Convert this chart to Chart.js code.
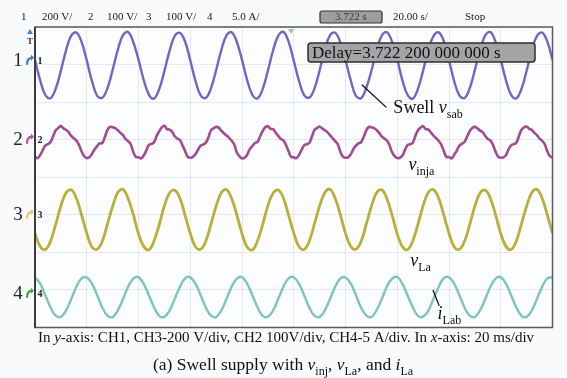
<!DOCTYPE html>
<html>
<head>
<meta charset="utf-8">
<script src="https://cdn.jsdelivr.net/npm/chart.js@4/dist/chart.umd.min.js"></script>
<style>
  html, body { margin: 0; padding: 0; background: #f8fafb; }
  #wrap { position: relative; width: 567px; height: 378px; }
  canvas { display: block; }
</style>
</head>
<body>
<div id="wrap"><canvas id="scope" width="567" height="378"></canvas></div>
<script>
// Sampling steps of the stored records (ms)
const stepCoarseMs = 2;   // CH1, CH3, CH4
const stepFineMs = 1;     // CH2

// CH1: supply line voltage v_sab (V)
const ch1Volts = [
  4,-104,-182,-199,-149,-52,56,134,151,101,
  2,-107,-185,-197,-146,-49,58,137,153,99,
  6,-101,-180,-201,-151,-55,53,132,149,103,
  3,-106,-184,-198,-147,-50,57,135,152,100,
  5,-103,-181,-200,-150,-53,55,133,154,102,
  1,-105,-183,-196,-148,-51,59,136,150,98,
  4,-102,-186,-199,-145,-54,54,134,152,101,
  7,-104,-182,-202,-149,-52,56,131,151,104,
  3,-108,-184,-198,-147,-48,57,135,153,100,
  5,-103,-181,-200,-150,-53,55,133,150,102,
  4
];

// CH2: injected voltage v_inja (V)
const ch2Volts = [
  -46,-49,-41,-28,-15,-12,-6,9,25,31,36,30,26,20,10,4,-2,-14,-31,-44,
  -49,-47,-38,-26,-17,-10,-9,7,26,34,33,31,25,18,12,2,-4,-12,-33,-46,
  -47,-50,-42,-29,-14,-11,-7,10,22,33,37,28,27,21,9,3,-1,-15,-30,-45,
  -48,-46,-39,-27,-16,-13,-8,6,25,30,34,32,24,17,11,5,-3,-13,-34,-44,
  -50,-48,-40,-25,-17,-9,-6,9,23,33,36,29,28,19,10,2,-2,-14,-31,-46,
  -47,-49,-41,-28,-15,-12,-9,8,26,31,35,30,25,20,12,4,-4,-12,-32,-45,
  -48,-47,-39,-26,-16,-10,-7,7,24,34,33,31,26,18,9,3,-2,-15,-33,-44,
  -49,-48,-42,-27,-14,-12,-8,10,25,32,36,28,27,19,11,4,-3,-13,-30,-46,
  -46,-50,-40,-29,-16,-11,-6,8,23,31,34,30,24,20,10,2,-2,-14,-32,-45,
  -48,-47,-41,-26,-15,-12,-8,9,26,33,35,29,26,18,12,3,-3,-12,-31,-44,
  -47
];

// CH3: load voltage v_La (V)
const ch3Volts = [
  -99,-169,-185,-140,-51,47,117,133,88,-1,
  -97,-171,-183,-142,-49,45,119,135,86,1,
  -101,-168,-186,-139,-53,48,116,131,89,-3,
  -98,-170,-184,-141,-50,46,118,134,87,0,
  -100,-172,-187,-138,-52,49,115,132,90,-2,
  -96,-169,-185,-140,-48,47,118,136,88,1,
  -99,-167,-183,-143,-51,44,117,133,86,-1,
  -102,-170,-186,-139,-50,48,119,134,89,-2,
  -98,-171,-184,-141,-53,46,116,132,87,0,
  -100,-168,-185,-140,-49,47,118,135,88,-1,
  -99
];

// CH4: load current i_Lab (A)
const ch4Amps = [
  2.19,1.33,-0.20,-1.82,-2.93,-3.09,-2.23,-0.70,0.92,2.03,
  2.17,1.35,-0.18,-1.84,-2.91,-3.11,-2.21,-0.72,0.94,2.01,
  2.21,1.31,-0.22,-1.80,-2.94,-3.08,-2.25,-0.69,0.90,2.05,
  2.18,1.34,-0.19,-1.83,-2.92,-3.10,-2.22,-0.71,0.93,2.02,
  2.20,1.32,-0.21,-1.81,-2.95,-3.07,-2.24,-0.68,0.91,2.04,
  2.19,1.33,-0.20,-1.82,-2.93,-3.09,-2.23,-0.70,0.92,2.03,
  2.16,1.36,-0.17,-1.85,-2.90,-3.12,-2.20,-0.73,0.95,2.00,
  2.22,1.30,-0.23,-1.79,-2.95,-3.06,-2.26,-0.67,0.89,2.06,
  2.18,1.34,-0.19,-1.83,-2.92,-3.10,-2.22,-0.71,0.93,2.02,
  2.20,1.32,-0.21,-1.81,-2.94,-3.08,-2.24,-0.69,0.91,2.04,
  2.19
];

// Channel settings: units per division and screen offset (divisions)
const channelNames = ['1', '2', '3', '4'];
const perDivision = [200, 100, 200, 5];
const offsetDivs = [3.1, 1.0, -1.0, -3.1];
const traceColors = ['#7366c0', '#a24b92', '#bcae3a', '#7cc6b3'];
const markerColors = ['#3d7fd0', '#b0509a', '#f3c070', '#3fa64a'];

// Header readouts
const headerItems = [
  ['1', 21], ['200 V/', 42], ['2', 88], ['100 V/', 107],
  ['3', 146], ['100 V/', 166], ['4', 207], ['5.0 A/', 232],
  ['20.00 s/', 393], ['Stop', 465]
];
const timeReadout = '3.722 s';
const delayReadout = 'Delay=3.722 200 000 000 s';

function toPoints(values, step, chIndex) {
  return values.map((v, i) => ({
    x: i * step,
    y: offsetDivs[chIndex] + v / perDivision[chIndex]
  }));
}

const SERIF = '"Liberation Serif", "DejaVu Serif", serif';

// Draws a run of text pieces: [text, kind] with kind 'n' normal, 'i' italic, 's' subscript
function richText(ctx, x, y, parts, size, align) {
  const subSize = Math.round(size * 0.68);
  const fontFor = k => (k === 'i' ? 'italic ' : '') + (k === 's' ? subSize : size) + 'px ' + SERIF;
  let total = 0;
  parts.forEach(([t, k]) => { ctx.font = fontFor(k); total += ctx.measureText(t).width; });
  let cx = align === 'center' ? x - total / 2 : x;
  ctx.textAlign = 'left';
  ctx.textBaseline = 'alphabetic';
  parts.forEach(([t, k]) => {
    ctx.font = fontFor(k);
    ctx.fillText(t, cx, k === 's' ? y + size * 0.28 : y);
    cx += ctx.measureText(t).width;
  });
}

function roundRect(ctx, x, y, w, h, r) {
  ctx.beginPath();
  ctx.moveTo(x + r, y);
  ctx.lineTo(x + w - r, y); ctx.quadraticCurveTo(x + w, y, x + w, y + r);
  ctx.lineTo(x + w, y + h - r); ctx.quadraticCurveTo(x + w, y + h, x + w - r, y + h);
  ctx.lineTo(x + r, y + h); ctx.quadraticCurveTo(x, y + h, x, y + h - r);
  ctx.lineTo(x, y + r); ctx.quadraticCurveTo(x, y, x + r, y);
  ctx.closePath();
}

const scopeBackground = {
  id: 'scopeBackground',
  beforeDraw(chart) {
    const { ctx, chartArea: a } = chart;
    ctx.save();
    ctx.fillStyle = '#f8fafb';
    ctx.fillRect(0, 0, chart.width, chart.height);
    ctx.fillStyle = '#fcfdfe';
    ctx.fillRect(a.left, a.top, a.right - a.left, a.bottom - a.top);
    ctx.restore();
  }
};

const scopeOverlay = {
  id: 'scopeOverlay',
  afterDatasetsDraw(chart) {
    const { ctx, chartArea: a, scales: { x, y } } = chart;
    ctx.save();

    // screen frame
    ctx.strokeStyle = '#5a5a5a';
    ctx.lineWidth = 1.5;
    ctx.strokeRect(a.left, a.top, a.right - a.left, a.bottom - a.top);
    ctx.strokeStyle = '#3c3c3c';
    ctx.lineWidth = 2;
    ctx.beginPath(); ctx.moveTo(a.left, a.top); ctx.lineTo(a.left, a.bottom); ctx.stroke();

    // trigger position marker on the top edge
    ctx.fillStyle = '#a9b7d6';
    ctx.beginPath();
    ctx.moveTo(x.getPixelForValue(99) - 3, a.top + 2);
    ctx.lineTo(x.getPixelForValue(99) + 3, a.top + 2);
    ctx.lineTo(x.getPixelForValue(99), a.top + 7);
    ctx.closePath(); ctx.fill();

    // trigger level marker
    ctx.fillStyle = '#3d7fd0';
    ctx.beginPath();
    ctx.moveTo(a.left - 8, a.top + 7); ctx.lineTo(a.left - 2, a.top + 7); ctx.lineTo(a.left - 5, a.top + 2);
    ctx.closePath(); ctx.fill();
    ctx.fillStyle = '#333';
    ctx.font = 'bold 9px ' + SERIF;
    ctx.textAlign = 'center'; ctx.textBaseline = 'middle';
    ctx.fillText('T', a.left - 5, a.top + 15);

    // channel ground markers
    channelNames.forEach((name, i) => {
      const py = y.getPixelForValue(offsetDivs[i]);
      ctx.fillStyle = '#222';
      ctx.font = '19px ' + SERIF;
      ctx.textAlign = 'center'; ctx.textBaseline = 'middle';
      ctx.fillText(name, a.left - 17, py);
      ctx.font = 'bold 10px ' + SERIF;
      ctx.fillText(name, a.left + 5, py + 1);
      // small hooked arrow
      ctx.strokeStyle = markerColors[i];
      ctx.fillStyle = markerColors[i];
      ctx.lineWidth = 2.2;
      ctx.beginPath();
      ctx.moveTo(a.left - 3, py - 3);
      ctx.quadraticCurveTo(a.left - 8, py - 3, a.left - 8, py + 4);
      ctx.stroke();
      ctx.beginPath();
      ctx.moveTo(a.left - 1, py - 3); ctx.lineTo(a.left - 4, py - 6); ctx.lineTo(a.left - 4, py);
      ctx.closePath(); ctx.fill();
    });

    // delay readout box
    ctx.font = '17px ' + SERIF;
    const dw = ctx.measureText(delayReadout).width;
    const bx = 308, by = 43, bw = Math.max(227, dw + 8), bh = 19;
    roundRect(ctx, bx, by, bw, bh, 3);
    ctx.fillStyle = '#a3a4a6'; ctx.fill();
    ctx.strokeStyle = '#2e2e2e'; ctx.lineWidth = 1.5; ctx.stroke();
    ctx.fillStyle = '#111';
    ctx.textAlign = 'left'; ctx.textBaseline = 'alphabetic';
    ctx.fillText(delayReadout, bx + 4, by + 15);

    // trace labels
    ctx.fillStyle = '#111';
    ctx.strokeStyle = '#111';
    ctx.lineWidth = 1.3;
    ctx.beginPath();
    ctx.moveTo(x.getPixelForValue(126.3), y.getPixelForValue(2.46));
    ctx.lineTo(x.getPixelForValue(135.8), y.getPixelForValue(1.86));
    ctx.stroke();
    richText(ctx, x.getPixelForValue(138.5), y.getPixelForValue(1.7), [['Swell ', 'n'], ['v', 'i'], ['sab', 's']], 18, 'left');
    richText(ctx, x.getPixelForValue(144.3), y.getPixelForValue(0.2), [['v', 'i'], ['inja', 's']], 18, 'left');
    richText(ctx, x.getPixelForValue(145.0), y.getPixelForValue(-2.35), [['v', 'i'], ['La', 's']], 18, 'left');
    ctx.beginPath();
    ctx.moveTo(x.getPixelForValue(153.8), y.getPixelForValue(-3.0));
    ctx.lineTo(x.getPixelForValue(156.2), y.getPixelForValue(-3.42));
    ctx.stroke();
    richText(ctx, x.getPixelForValue(155.6), y.getPixelForValue(-3.78), [['i', 'i'], ['Lab', 's']], 18, 'left');

    ctx.restore();
  },
  afterDraw(chart) {
    const { ctx } = chart;
    ctx.save();
    ctx.fillStyle = '#1a1a1a';
    ctx.font = '11px ' + SERIF;
    ctx.textAlign = 'left'; ctx.textBaseline = 'middle';
    headerItems.forEach(([t, px]) => ctx.fillText(t, px, 17));

    roundRect(ctx, 320, 11, 62, 12, 2);
    ctx.fillStyle = '#9d9ea0'; ctx.fill();
    ctx.strokeStyle = '#333'; ctx.lineWidth = 1.2; ctx.stroke();
    ctx.fillStyle = '#3a3a3a';
    ctx.textAlign = 'center';
    ctx.fillText(timeReadout, 351, 17.5);

    ctx.fillStyle = '#111';
    richText(ctx, 286, 342, [
      ['In ', 'n'], ['y', 'i'], ['-axis: CH1, CH3-200 V/div, CH2 100V/div, CH4-5 A/div. In ', 'n'],
      ['x', 'i'], ['-axis: 20 ms/div', 'n']
    ], 15, 'center');
    richText(ctx, 283, 370, [
      ['(a) Swell supply with ', 'n'], ['v', 'i'], ['inj', 's'], [', ', 'n'],
      ['v', 'i'], ['La', 's'], [', and ', 'n'], ['i', 'i'], ['La', 's']
    ], 17.5, 'center');
    ctx.restore();
  }
};

const datasets = [
  { data: toPoints(ch1Volts, stepCoarseMs, 0), borderColor: traceColors[0], borderWidth: 2.4 },
  { data: toPoints(ch2Volts, stepFineMs, 1), borderColor: traceColors[1], borderWidth: 2.6 },
  { data: toPoints(ch3Volts, stepCoarseMs, 2), borderColor: traceColors[2], borderWidth: 2.8 },
  { data: toPoints(ch4Amps, stepCoarseMs, 3), borderColor: traceColors[3], borderWidth: 2.4 }
].map(d => Object.assign(d, { pointRadius: 0, tension: 0.4, fill: false }));

new Chart(document.getElementById('scope'), {
  type: 'line',
  data: { datasets },
  options: {
    responsive: false,
    animation: false,
    devicePixelRatio: 1,
    parsing: false,
    layout: { padding: { left: 35, right: 14.5, top: 27, bottom: 50.5 } },
    plugins: { legend: { display: false }, tooltip: { enabled: false } },
    scales: {
      x: {
        type: 'linear', min: 0, max: 200,
        ticks: { display: false, stepSize: 20 },
        grid: { color: 'rgba(175,190,208,0.3)', lineWidth: 1, drawTicks: false },
        border: { display: false }
      },
      y: {
        type: 'linear', min: -4, max: 4,
        ticks: { display: false, stepSize: 1 },
        grid: { color: 'rgba(175,190,208,0.3)', lineWidth: 1, drawTicks: false },
        border: { display: false }
      }
    }
  },
  plugins: [scopeBackground, scopeOverlay]
});
</script>
</body>
</html>
